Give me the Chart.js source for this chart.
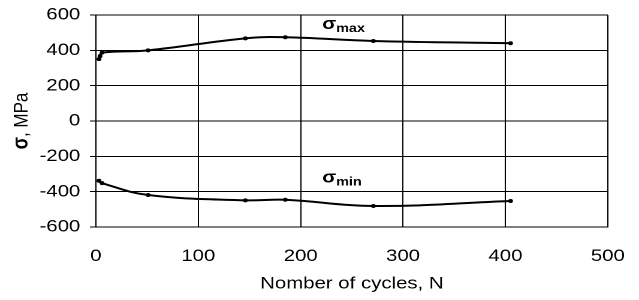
<!DOCTYPE html>
<html><head><meta charset="utf-8">
<script src="https://cdn.jsdelivr.net/npm/chart.js@4/dist/chart.umd.min.js"></script>
<style>
html,body{margin:0;padding:0;background:#fff;overflow:hidden}
#wrap{width:533px;height:300px;position:relative;transform:scaleX(1.19887);transform-origin:0 0}
</style>
</head><body><div id="wrap"><canvas id="c" width="533" height="300"></canvas></div>
<script>
const cyclesMax = [3, 4, 6, 51, 146, 185, 271, 405];
const sigmaMax = [350, 367, 387, 400, 468, 474, 453, 440];
const cyclesMin = [3, 6, 51, 146, 185, 271, 405];
const sigmaMin = [-338, -352, -419, -449, -446, -481, -453];
const xTicks = [0, 100, 200, 300, 400, 500];
const yTicks = [-600, -400, -200, 0, 200, 400, 600];
const seriesNames = [['σ', 'max'], ['σ', 'min']];
const seriesLabelAt = [[221, 521], [221, -349]];
const xTitle = 'Nomber of cycles, N';
const yTitle = ['σ', ', MPa'];

const FONT = "'Liberation Sans', Arial, sans-serif";
const toPts = (xs, ys) => xs.map((x, i) => ({x: x, y: ys[i]}));

const annot = {
  id: 'annot',
  afterDraw(chart) {
    const ctx = chart.ctx;
    const xs = chart.scales.x, ys = chart.scales.y;
    ctx.save();
    ctx.fillStyle = '#000';
    ctx.textBaseline = 'alphabetic';
    seriesNames.forEach((n, i) => {
      const px = xs.getPixelForValue(seriesLabelAt[i][0]);
      const py = ys.getPixelForValue(seriesLabelAt[i][1]);
      ctx.font = 'bold 17px ' + FONT;
      ctx.textAlign = 'left';
      ctx.fillText(n[0], px, py);
      const w = ctx.measureText(n[0]).width;
      ctx.font = 'bold 12px ' + FONT;
      ctx.fillText(n[1], px + w, py + 3);
    });
    const cy = (chart.chartArea.top + chart.chartArea.bottom) / 2;
    ctx.translate(23, cy);
    ctx.rotate(-Math.PI / 2);
    ctx.font = 'bold 18px ' + FONT;
    const w1 = ctx.measureText(yTitle[0]).width;
    ctx.font = '17px ' + FONT;
    const w2 = ctx.measureText(yTitle[1]).width;
    const sx = -(w1 + w2) / 2;
    ctx.font = 'bold 18px ' + FONT;
    ctx.fillText(yTitle[0], sx, 0);
    ctx.font = '17px ' + FONT;
    ctx.fillText(yTitle[1], sx + w1, 0);
    ctx.restore();
  }
};

const common = {
  showLine: true, borderColor: '#000', backgroundColor: '#000', borderWidth: 2,
  pointRadius: 2, pointHoverRadius: 2, tension: 0.4, pointBorderWidth: 0
};

new Chart(document.getElementById('c'), {
  type: 'scatter',
  data: {
    datasets: [
      Object.assign({label: 'σmax', data: toPts(cyclesMax, sigmaMax)}, common),
      Object.assign({label: 'σmin', data: toPts(cyclesMin, sigmaMin)}, common)
    ]
  },
  options: {
    responsive: false, maintainAspectRatio: false, animation: false,
    devicePixelRatio: 2,
    layout: {padding: {top: 15, right: 26, left: 0, bottom: 0}},
    plugins: {legend: {display: false}, tooltip: {enabled: false}},
    scales: {
      x: {
        type: 'linear', min: xTicks[0], max: xTicks[xTicks.length - 1],
        afterBuildTicks: s => { s.ticks = xTicks.map(v => ({value: v})); },
        afterFit: s => { s.height = 73; s.paddingLeft = 0; s.paddingRight = 0; },
        ticks: {color: '#000', font: {family: FONT, size: 17}, padding: 19, maxRotation: 0},
        grid: {color: '#000', lineWidth: 1, drawTicks: false},
        border: {display: true, color: '#000', width: 1},
        title: {display: true, text: xTitle, color: '#000', font: {family: FONT, size: 17}, padding: {top: 0, bottom: 6}}
      },
      y: {
        type: 'linear', min: yTicks[0], max: yTicks[yTicks.length - 1],
        afterBuildTicks: s => { s.ticks = yTicks.map(v => ({value: v})); },
        afterFit: s => { s.width = 80; s.paddingTop = 0; s.paddingBottom = 0; },
        ticks: {color: '#000', font: {family: FONT, size: 17}, padding: 8},
        grid: {color: '#000', lineWidth: 1, drawTicks: true, tickLength: 5},
        border: {display: true, color: '#000', width: 1}
      }
    }
  },
  plugins: [annot]
});
</script></body></html>
